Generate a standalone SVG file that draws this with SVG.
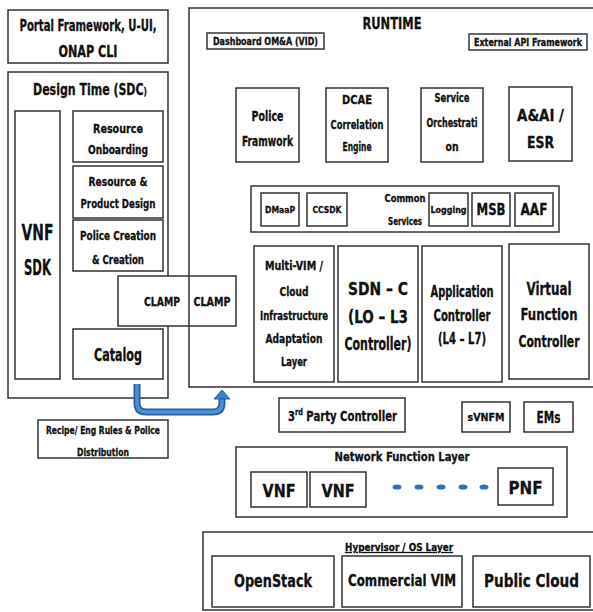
<svg xmlns="http://www.w3.org/2000/svg" width="593" height="612" viewBox="0 0 593 612">
  <style>
    .box { fill: #ffffff; stroke: #333333; stroke-width: 1.5; }
    .frame { fill: none; stroke: #333333; stroke-width: 1.5; }
    text { font-family: "DejaVu Sans Condensed", "Liberation Sans", sans-serif; font-weight: bold; fill: #111111; stroke: #111111; stroke-width: 0.3; text-anchor: middle; }
    .s9 { font-size: 9px; }
    .s10 { font-size: 10px; }
    .s11 { font-size: 11px; }
    .s12 { font-size: 12px; }
    .s13 { font-size: 13px; }
    .s14 { font-size: 14px; }
    .s15 { font-size: 15px; }
    .s16 { font-size: 16px; }
    .s17 { font-size: 17px; }
    .s18 { font-size: 18px; }
    .s22 { font-size: 22px; }
    .dot { fill: #2e6fb7; }
  </style>
  <rect width="593" height="612" fill="#ffffff"/>

  <!-- Portal -->
  <g id="portal">
    <rect class="box" x="8" y="10" width="160" height="53"/>
    <text class="s16" x="88" y="31" textLength="137" lengthAdjust="spacingAndGlyphs">Portal Framework, U-UI,</text>
    <text class="s16" x="88" y="57" textLength="59" lengthAdjust="spacingAndGlyphs">ONAP CLI</text>
  </g>

  <!-- Design time (SDC) container -->
  <g id="design-time">
    <rect class="box" x="8" y="72" width="160" height="326"/>
    <text class="s16" x="90" y="95" textLength="114" lengthAdjust="spacingAndGlyphs">Design Time (SDC<tspan font-size="11px">)</tspan></text>
  </g>
  <g id="vnf-sdk">
    <rect class="box" x="15" y="111" width="45" height="268"/>
    <text class="s22" x="37.5" y="240" textLength="32" lengthAdjust="spacingAndGlyphs">VNF</text>
    <text class="s22" x="37.5" y="275" textLength="27" lengthAdjust="spacingAndGlyphs">SDK</text>
  </g>
  <g id="resource-onboarding">
    <rect class="box" x="73" y="111" width="90" height="51"/>
    <text class="s13" x="118" y="133" textLength="50" lengthAdjust="spacingAndGlyphs">Resource</text>
    <text class="s13" x="118" y="154" textLength="60" lengthAdjust="spacingAndGlyphs">Onboarding</text>
  </g>
  <g id="resource-product-design">
    <rect class="box" x="73" y="166" width="90" height="52"/>
    <text class="s13" x="118" y="186" textLength="59" lengthAdjust="spacingAndGlyphs">Resource &amp;</text>
    <text class="s13" x="118" y="208" textLength="75" lengthAdjust="spacingAndGlyphs">Product Design</text>
  </g>
  <g id="police-creation">
    <rect class="box" x="73" y="220" width="90" height="51"/>
    <text class="s13" x="118" y="240" textLength="76" lengthAdjust="spacingAndGlyphs">Police Creation</text>
    <text class="s13" x="118" y="264" textLength="52" lengthAdjust="spacingAndGlyphs">&amp; Creation</text>
  </g>
  <g id="catalog">
    <rect class="box" x="73" y="329" width="90" height="50"/>
    <text class="s17" x="118" y="361" textLength="48" lengthAdjust="spacingAndGlyphs">Catalog</text>
  </g>

  <!-- Runtime container -->
  <g id="runtime">
    <rect class="frame" x="189" y="8" width="420" height="379"/>
    <text class="s16" x="392" y="29" textLength="59" lengthAdjust="spacingAndGlyphs">RUNTIME</text>
  </g>

  <!-- CLAMP spans design time and runtime -->
  <g id="clamp">
    <rect class="box" x="118" y="276" width="118" height="50"/>
    <line class="frame" x1="189" y1="276" x2="189" y2="326"/>
    <text class="s12" x="162" y="306" textLength="36" lengthAdjust="spacingAndGlyphs">CLAMP</text>
    <text class="s12" x="212" y="306" textLength="37" lengthAdjust="spacingAndGlyphs">CLAMP</text>
  </g>

  <g id="dashboard">
    <rect class="box" x="207" y="33" width="117" height="16"/>
    <text class="s10" x="265.5" y="45" textLength="105" lengthAdjust="spacingAndGlyphs">Dashboard OM&amp;A (VID)</text>
  </g>
  <g id="external-api">
    <rect class="box" x="469" y="34" width="118" height="16"/>
    <text class="s10" x="528" y="46" textLength="108" lengthAdjust="spacingAndGlyphs">External API Framework</text>
  </g>
  <g id="police-framwork">
    <rect class="box" x="236" y="88" width="63" height="74"/>
    <text class="s14" x="267.5" y="121" textLength="32" lengthAdjust="spacingAndGlyphs">Police</text>
    <text class="s14" x="267.5" y="146" textLength="51" lengthAdjust="spacingAndGlyphs">Framwork</text>
  </g>
  <g id="dcae">
    <rect class="box" x="326" y="88" width="62" height="74"/>
    <text class="s13" x="357" y="104" textLength="30" lengthAdjust="spacingAndGlyphs">DCAE</text>
    <text class="s13" x="357" y="129" textLength="53" lengthAdjust="spacingAndGlyphs">Correlation</text>
    <text class="s13" x="357" y="151" textLength="29" lengthAdjust="spacingAndGlyphs">Engine</text>
  </g>
  <g id="service-orchestration">
    <rect class="box" x="421" y="88" width="62" height="74"/>
    <text class="s12" x="452" y="102" textLength="35" lengthAdjust="spacingAndGlyphs">Service</text>
    <text class="s12" x="452" y="127" textLength="51" lengthAdjust="spacingAndGlyphs">Orchestrati</text>
    <text class="s12" x="452" y="151" textLength="13" lengthAdjust="spacingAndGlyphs">on</text>
  </g>
  <g id="aai-esr">
    <rect class="box" x="509" y="87" width="63" height="74"/>
    <text class="s16" x="540.5" y="121" textLength="47" lengthAdjust="spacingAndGlyphs">A&amp;AI /</text>
    <text class="s16" x="540.5" y="148" textLength="27" lengthAdjust="spacingAndGlyphs">ESR</text>
  </g>

  <g id="common-services">
    <rect class="box" x="251" y="186" width="308" height="46"/>
    <text class="s10" x="405" y="202" textLength="41" lengthAdjust="spacingAndGlyphs">Common</text>
    <text class="s10" x="405" y="225" textLength="34" lengthAdjust="spacingAndGlyphs">Services</text>
  </g>
  <g id="dmaap">
    <rect class="box" x="261" y="193" width="38" height="33"/>
    <text class="s9" x="280" y="213" textLength="30" lengthAdjust="spacingAndGlyphs">DMaaP</text>
  </g>
  <g id="ccsdk">
    <rect class="box" x="307" y="193" width="40" height="33"/>
    <text class="s9" x="327" y="213" textLength="29" lengthAdjust="spacingAndGlyphs">CCSDK</text>
  </g>
  <g id="logging">
    <rect class="box" x="429" y="193" width="39" height="33"/>
    <text class="s9" x="448.5" y="213" textLength="36" lengthAdjust="spacingAndGlyphs">Logging</text>
  </g>
  <g id="msb">
    <rect class="box" x="472" y="193" width="38" height="33"/>
    <text class="s15" x="491" y="215" textLength="29" lengthAdjust="spacingAndGlyphs">MSB</text>
  </g>
  <g id="aaf">
    <rect class="box" x="515" y="193" width="38" height="33"/>
    <text class="s15" x="534" y="215" textLength="27" lengthAdjust="spacingAndGlyphs">AAF</text>
  </g>

  <g id="multi-vim">
    <rect class="box" x="254" y="246" width="80" height="136"/>
    <text class="s12" x="294" y="270" textLength="58" lengthAdjust="spacingAndGlyphs">Multi-VIM /</text>
    <text class="s12" x="294" y="296" textLength="29" lengthAdjust="spacingAndGlyphs">Cloud</text>
    <text class="s12" x="294" y="320" textLength="68" lengthAdjust="spacingAndGlyphs">Infrastructure</text>
    <text class="s12" x="294" y="343" textLength="57" lengthAdjust="spacingAndGlyphs">Adaptation</text>
    <text class="s12" x="294" y="366" textLength="26" lengthAdjust="spacingAndGlyphs">Layer</text>
  </g>
  <g id="sdn-c">
    <rect class="box" x="338" y="246" width="80" height="136"/>
    <text class="s17" x="378" y="295" textLength="60" lengthAdjust="spacingAndGlyphs">SDN – C</text>
    <text class="s17" x="378" y="323" textLength="60" lengthAdjust="spacingAndGlyphs">(LO – L3</text>
    <text class="s17" x="378" y="350" textLength="67" lengthAdjust="spacingAndGlyphs">Controller)</text>
  </g>
  <g id="app-controller">
    <rect class="box" x="422" y="246" width="80" height="136"/>
    <text class="s15" x="462" y="297" textLength="63" lengthAdjust="spacingAndGlyphs">Application</text>
    <text class="s15" x="462" y="321" textLength="57" lengthAdjust="spacingAndGlyphs">Controller</text>
    <text class="s15" x="462" y="344" textLength="48" lengthAdjust="spacingAndGlyphs">(L4 – L7)</text>
  </g>
  <g id="vf-controller">
    <rect class="box" x="509" y="244" width="80" height="135"/>
    <text class="s17" x="549" y="295" textLength="45" lengthAdjust="spacingAndGlyphs">Virtual</text>
    <text class="s16" x="549" y="320" textLength="57" lengthAdjust="spacingAndGlyphs">Function</text>
    <text class="s16" x="549" y="347" textLength="61" lengthAdjust="spacingAndGlyphs">Controller</text>
  </g>

  <!-- Controllers and managers below runtime -->
  <g id="third-party-controller">
    <rect class="box" x="279" y="398" width="126" height="34"/>
    <text class="s14" x="342.5" y="421" textLength="109" lengthAdjust="spacingAndGlyphs">3<tspan font-size="9px" dy="-6">rd</tspan><tspan dy="6"> Party Controller</tspan></text>
  </g>
  <g id="svnfm">
    <rect class="box" x="462" y="402" width="48" height="30"/>
    <text class="s11" x="486" y="421" textLength="37" lengthAdjust="spacingAndGlyphs">sVNFM</text>
  </g>
  <g id="ems">
    <rect class="box" x="524" y="402" width="49" height="30"/>
    <text class="s15" x="548.5" y="423" textLength="24" lengthAdjust="spacingAndGlyphs">EMs</text>
  </g>

  <g id="recipe-distribution">
    <rect class="box" x="38" y="420" width="130" height="38"/>
    <text class="s11" x="103" y="434" textLength="114" lengthAdjust="spacingAndGlyphs">Recipe/ Eng Rules &amp; Police</text>
    <text class="s11" x="103" y="456" textLength="52" lengthAdjust="spacingAndGlyphs">Distribution</text>
  </g>

  <!-- Network function layer -->
  <g id="network-function-layer">
    <rect class="box" x="236" y="447" width="331" height="70"/>
    <text class="s13" x="402" y="461" textLength="135" lengthAdjust="spacingAndGlyphs">Network Function Layer</text>
  </g>
  <g id="vnf-1">
    <rect class="box" x="251" y="472" width="56" height="35"/>
    <text class="s18" x="279" y="497" textLength="33" lengthAdjust="spacingAndGlyphs">VNF</text>
  </g>
  <g id="vnf-2">
    <rect class="box" x="310" y="472" width="56" height="35"/>
    <text class="s18" x="338" y="497" textLength="33" lengthAdjust="spacingAndGlyphs">VNF</text>
  </g>
  <g id="pnf">
    <rect class="box" x="498" y="468" width="55" height="37"/>
    <text class="s18" x="525.5" y="494" textLength="34" lengthAdjust="spacingAndGlyphs">PNF</text>
  </g>

  <!-- Hypervisor / OS layer -->
  <g id="hypervisor-layer">
    <rect class="box" x="203" y="532" width="400" height="78"/>
    <text class="s10" x="399" y="551" textLength="108" lengthAdjust="spacingAndGlyphs" text-decoration="underline">Hypervisor / OS Layer</text>
  </g>
  <g id="openstack">
    <rect class="box" x="212" y="556" width="122" height="51"/>
    <text class="s18" x="273" y="587" textLength="78" lengthAdjust="spacingAndGlyphs">OpenStack</text>
  </g>
  <g id="commercial-vim">
    <rect class="box" x="342" y="556" width="120" height="51"/>
    <text class="s15" x="402" y="586" textLength="108" lengthAdjust="spacingAndGlyphs">Commercial VIM</text>
  </g>
  <g id="public-cloud">
    <rect class="box" x="473" y="556" width="117" height="51"/>
    <text class="s18" x="531.5" y="587" textLength="95" lengthAdjust="spacingAndGlyphs">Public Cloud</text>
  </g>

  <!-- Connectors -->
  <g id="connectors">
    <!-- bent distribution arrow from catalog to runtime -->
    <path d="M137,384 V403 Q137,412 146,412 H213 Q222,412 222,403 V398" fill="none" stroke="#2a5f9f" stroke-width="7"/>
    <path d="M137,384 V403 Q137,412 146,412 H213 Q222,412 222,403 V398" fill="none" stroke="#4f8fd3" stroke-width="3.5"/>
    <polygon points="214,399 230,399 222,390" fill="#3f7ec4" stroke="#2a5f9f" stroke-width="1"/>
    <!-- ellipsis between VNFs and PNF -->
    <g id="ellipsis">
      <ellipse class="dot" cx="397" cy="487" rx="4.5" ry="2.6"/>
      <ellipse class="dot" cx="419" cy="487" rx="4.5" ry="2.6"/>
      <ellipse class="dot" cx="441" cy="487" rx="4.5" ry="2.6"/>
      <ellipse class="dot" cx="463" cy="487" rx="4.5" ry="2.6"/>
      <ellipse class="dot" cx="484" cy="487" rx="4.5" ry="2.6"/>
    </g>
  </g>
</svg>
